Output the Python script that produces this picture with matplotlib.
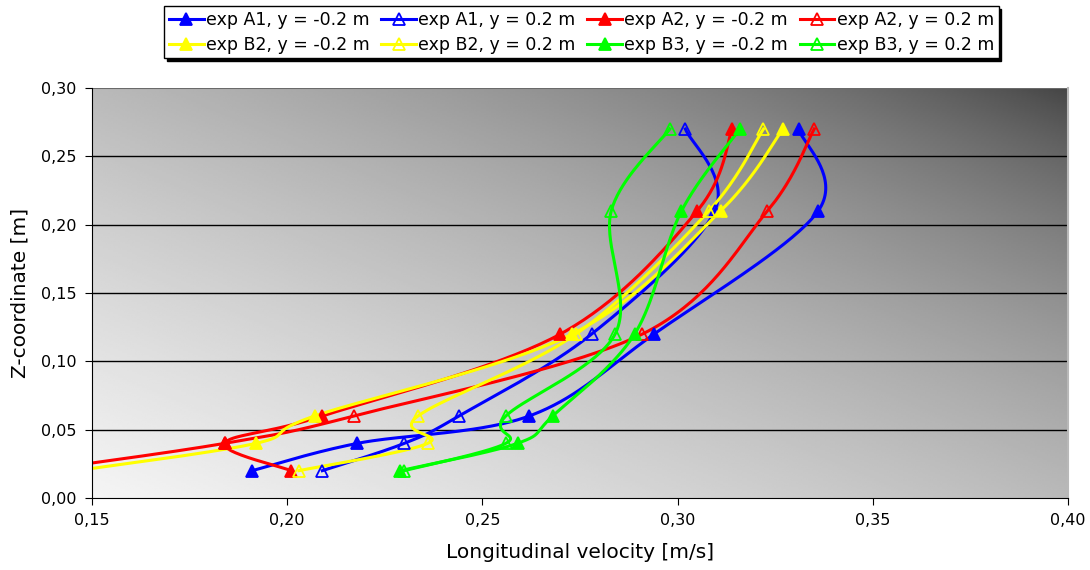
import numpy as np
import matplotlib.pyplot as plt
from matplotlib.ticker import FuncFormatter

# heights of the measuring points [m]
z = [0.02, 0.04, 0.06, 0.12, 0.21, 0.27]

# longitudinal velocity [m/s] at each height
a1_neg = [0.191, 0.218, 0.262, 0.294, 0.336, 0.331]
a1_pos = [0.209, 0.230, 0.244, 0.278, 0.3095, 0.302]
a2_neg = [0.201, 0.184, 0.209, 0.270, 0.305, 0.314]
a2_pos = [0.136, 0.184, 0.217, 0.291, 0.323, 0.335]
b2_neg = [0.146, 0.192, 0.207, 0.273, 0.311, 0.327]
b2_pos = [0.203, 0.236, 0.2335, 0.274, 0.308, 0.322]
b3_neg = [0.229, 0.259, 0.268, 0.289, 0.301, 0.316]
b3_pos = [0.230, 0.256, 0.256, 0.284, 0.283, 0.298]

labels = ['exp A1, y = -0.2 m', 'exp A1, y = 0.2 m',
          'exp A2, y = -0.2 m', 'exp A2, y = 0.2 m',
          'exp B2, y = -0.2 m', 'exp B2, y = 0.2 m',
          'exp B3, y = -0.2 m', 'exp B3, y = 0.2 m']
series = [a1_neg, a1_pos, a2_neg, a2_pos, b2_neg, b2_pos, b3_neg, b3_pos]
colors = ['#0000ff', '#0000ff', '#ff0000', '#ff0000',
          '#ffff00', '#ffff00', '#00ff00', '#00ff00']
filled = [True, False] * 4

XMIN, XMAX, YMIN, YMAX = 0.15, 0.40, 0.0, 0.30


def smooth(xs, ys, n=40):
    # Catmull-Rom through the points, computed in plot-area proportions
    sx, sy = 976 / (XMAX - XMIN), 409 / (YMAX - YMIN)
    p = np.column_stack([np.asarray(xs) * sx, np.asarray(ys) * sy])
    p = np.vstack([p[0], p, p[-1]])
    out = []
    for i in range(1, len(p) - 2):
        p0, p1, p2, p3 = p[i - 1], p[i], p[i + 1], p[i + 2]
        c1 = p1 + (p2 - p0) / 6
        c2 = p2 - (p3 - p1) / 6
        t = np.linspace(0, 1, n)[:, None]
        seg = ((1 - t) ** 3 * p1 + 3 * (1 - t) ** 2 * t * c1
               + 3 * (1 - t) * t ** 2 * c2 + t ** 3 * p2)
        out.append(seg if i == 1 else seg[1:])
    out = np.vstack(out)
    return out[:, 0] / sx, out[:, 1] / sy


def to_lin(c):
    return ((c + 0.055) / 1.055) ** 2.4


def to_srgb(c):
    return 1.055 * c ** (1 / 2.4) - 0.055


fig = plt.figure(figsize=(10.9, 5.7), dpi=100)
ax = fig.add_axes([0.0844, 0.1263, 0.8954, 0.7193])

# diagonal grey gradient: light bottom-left, dark top-right (blended in linear light)
u, v = np.meshgrid(np.linspace(0, 1, 400), np.linspace(0, 1, 200))
t = (u + v) / 2
grad = to_srgb(to_lin(0.96) + (to_lin(0.27) - to_lin(0.96)) * t)
ax.imshow(grad, cmap='gray', vmin=0, vmax=1, origin='lower', aspect='auto',
          extent=[XMIN, XMAX, YMIN, YMAX], zorder=0, interpolation='bilinear')

for yv in np.arange(0.05, 0.251, 0.05):
    ax.axhline(yv, color='black', lw=1, zorder=1)
ax.axhline(0.30, color='#6a6a6a', lw=1.5, zorder=1)

handles = []
for vals, lab, col, fill in zip(series, labels, colors, filled):
    sx, sy = smooth(vals, z)
    ax.plot(sx, sy, color=col, lw=2.2, zorder=2)
    ax.plot(vals, z, linestyle='none', marker='^', ms=9,
            mfc=col if fill else 'none', mec=col, mew=1.3, zorder=3)
    h, = ax.plot([], [], color=col, lw=2.2, marker='^', ms=9,
                 mfc=col if fill else 'none', mec=col, mew=1.3)
    handles.append(h)

ax.set_xlim(XMIN, XMAX)
ax.set_ylim(YMIN, YMAX)
ax.set_xticks(np.arange(0.15, 0.401, 0.05))
ax.set_yticks(np.arange(0.0, 0.301, 0.05))
fmt = FuncFormatter(lambda val, pos: f'{val:.2f}'.replace('.', ','))
ax.xaxis.set_major_formatter(fmt)
ax.yaxis.set_major_formatter(fmt)
ax.tick_params(labelsize=11.5, length=5, direction='out', pad=6)
ax.spines['top'].set_visible(False)
ax.spines['right'].set_color('#b8b8b8')
ax.spines['right'].set_linewidth(1.5)
ax.spines['left'].set_color('black')
ax.spines['bottom'].set_color('black')

fig.text(0.532, 1 - 553 / 570, 'Longitudinal velocity [m/s]', fontsize=14.5,
         ha='center', va='center')
fig.text(20 / 1090, 1 - 293 / 570, 'Z-coordinate [m]', fontsize=14.5,
         ha='center', va='center', rotation=90)

# legend reads row by row
order = [0, 4, 1, 5, 2, 6, 3, 7]
leg = fig.legend([handles[i] for i in order], [labels[i] for i in order],
                 ncol=4, loc='upper center', bbox_to_anchor=(0.5335, 0.995),
                 fontsize=12.5, fancybox=False,
                 shadow={'color': 'black', 'alpha': 1},
                 edgecolor='black', framealpha=1, handlelength=2.0,
                 handletextpad=0.15, columnspacing=0.65, borderpad=0.25,
                 labelspacing=0.4, borderaxespad=0.2)
leg.get_frame().set_linewidth(1)

fig.savefig('out.png', dpi=100)
